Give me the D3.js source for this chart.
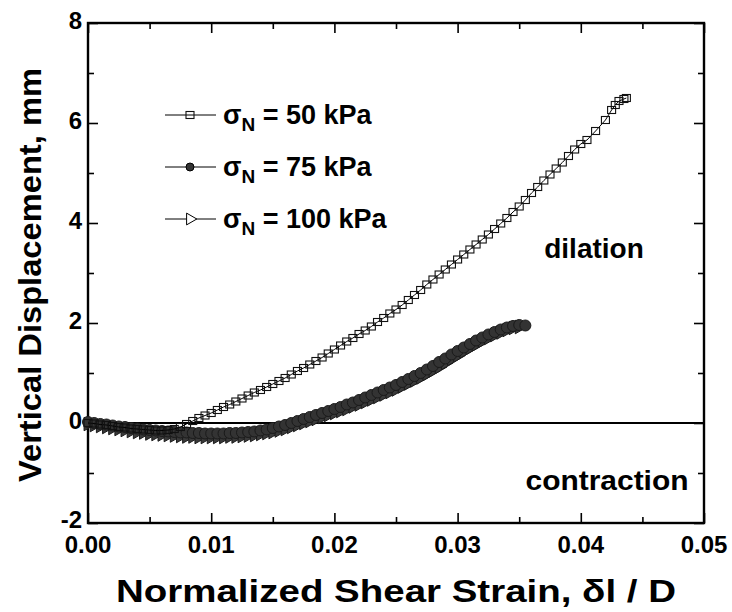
<!DOCTYPE html>
<html>
<head>
<meta charset="utf-8">
<script src="https://cdn.jsdelivr.net/npm/d3@7"></script>
<style>
  body { margin: 0; background: #fff; }
  text { font-family: "Liberation Sans", Arial, sans-serif; font-weight: bold; fill: #000; }
</style>
</head>
<body>
<div id="chart"></div>
<script>
// values
const strain50 = [0.0000,0.0005,0.0010,0.0015,0.0020,0.0025,0.0030,0.0035,0.0040,0.0045,0.0050,0.0055,0.0060,0.0065,0.0070,0.0075,0.0080,0.0085,0.0090,0.0095,
  0.0100,0.0105,0.0110,0.0115,0.0120,0.0125,0.0130,0.0135,0.0140,0.0145,0.0150,0.0155,0.0160,0.0165,0.0170,0.0175,0.0180,0.0185,0.0190,0.0195,
  0.0200,0.0205,0.0210,0.0215,0.0220,0.0225,0.0230,0.0235,0.0240,0.0245,0.0250,0.0255,0.0260,0.0265,0.0270,0.0275,0.0280,0.0285,0.0290,0.0295,
  0.0300,0.0305,0.0310,0.0315,0.0320,0.0325,0.0330,0.0335,0.0340,0.0345,0.0350,0.0355,0.0360,0.0365,0.0370,0.0375,0.0380,0.0385,0.0390,0.0395,
  0.0400,0.0405,0.0412,0.0420,0.0425,0.0428,0.0431,0.0435,0.0437];
const disp50 = [0.00,-0.01,-0.03,-0.04,-0.06,-0.08,-0.09,-0.11,-0.12,-0.13,-0.14,-0.15,-0.15,-0.14,-0.12,-0.08,-0.02,0.04,0.10,0.15,
  0.20,0.26,0.32,0.37,0.43,0.49,0.55,0.61,0.66,0.72,0.78,0.84,0.90,0.97,1.04,1.10,1.17,1.24,1.31,1.39,
  1.47,1.55,1.63,1.70,1.78,1.85,1.93,2.02,2.10,2.19,2.27,2.36,2.46,2.56,2.66,2.77,2.87,2.97,3.07,3.17,
  3.27,3.37,3.47,3.57,3.67,3.77,3.88,3.99,4.10,4.22,4.33,4.46,4.60,4.72,4.85,4.97,5.09,5.21,5.34,5.47,
  5.58,5.66,5.84,6.06,6.26,6.36,6.44,6.48,6.50];

const strain75 = [0.0000,0.0005,0.0010,0.0015,0.0020,0.0025,0.0030,0.0035,0.0040,0.0045,0.0050,0.0055,0.0060,0.0065,0.0070,0.0075,0.0080,0.0085,0.0090,0.0095,
  0.0100,0.0105,0.0110,0.0115,0.0120,0.0125,0.0130,0.0135,0.0140,0.0145,0.0150,0.0155,0.0160,0.0165,0.0170,0.0175,0.0180,0.0185,0.0190,0.0195,
  0.0200,0.0205,0.0210,0.0215,0.0220,0.0225,0.0230,0.0235,0.0240,0.0245,0.0250,0.0255,0.0260,0.0265,0.0270,0.0275,0.0280,0.0285,0.0290,0.0295,
  0.0300,0.0305,0.0310,0.0315,0.0320,0.0325,0.0330,0.0335,0.0340,0.0345,0.0350,0.0355];
const disp75 = [0.02,0.00,-0.02,-0.03,-0.05,-0.07,-0.08,-0.10,-0.11,-0.13,-0.14,-0.15,-0.16,-0.17,-0.18,-0.19,-0.19,-0.20,-0.20,-0.21,
  -0.21,-0.21,-0.21,-0.20,-0.20,-0.19,-0.18,-0.17,-0.15,-0.13,-0.10,-0.07,-0.04,0.00,0.04,0.08,0.12,0.16,0.20,0.24,
  0.28,0.32,0.37,0.41,0.46,0.51,0.56,0.61,0.66,0.71,0.76,0.82,0.88,0.94,1.00,1.07,1.14,1.22,1.29,1.37,
  1.44,1.51,1.58,1.65,1.71,1.77,1.82,1.87,1.91,1.94,1.96,1.95];

const strain100 = [0.0000,0.0005,0.0010,0.0015,0.0020,0.0025,0.0030,0.0035,0.0040,0.0045,0.0050,0.0055,0.0060,0.0065,0.0070,0.0075,0.0080,0.0085,0.0090,0.0095,
  0.0100,0.0105,0.0110,0.0115,0.0120,0.0125,0.0130,0.0135,0.0140,0.0145,0.0150,0.0155,0.0160,0.0165,0.0170,0.0175,0.0180,0.0185,0.0190,0.0195,
  0.0200,0.0205,0.0210,0.0215,0.0220,0.0225,0.0230,0.0235,0.0240,0.0245,0.0250,0.0255,0.0260,0.0265,0.0270,0.0275,0.0280,0.0285,0.0290,0.0295,
  0.0300,0.0305,0.0310,0.0315,0.0320,0.0325,0.0330,0.0335,0.0340,0.0345,0.0350];
const disp100 = [-0.02,-0.04,-0.06,-0.08,-0.10,-0.12,-0.14,-0.16,-0.18,-0.19,-0.21,-0.22,-0.23,-0.24,-0.25,-0.26,-0.27,-0.27,-0.28,-0.28,
  -0.28,-0.28,-0.28,-0.27,-0.27,-0.26,-0.25,-0.24,-0.22,-0.20,-0.18,-0.15,-0.12,-0.08,-0.04,0.00,0.04,0.08,0.12,0.16,
  0.20,0.24,0.28,0.33,0.37,0.42,0.47,0.52,0.57,0.62,0.67,0.73,0.79,0.85,0.91,0.98,1.05,1.12,1.20,1.28,
  1.35,1.43,1.50,1.57,1.64,1.70,1.76,1.81,1.86,1.90,1.92];

const legendLabels = ["50 kPa", "75 kPa", "100 kPa"];
const xTicks = [0, 0.01, 0.02, 0.03, 0.04, 0.05];
const yTicks = [-2, 0, 2, 4, 6, 8];

const width = 732, height = 612;
const margin = { top: 23, right: 28, bottom: 89, left: 88 };
const plotW = width - margin.left - margin.right;
const plotH = height - margin.top - margin.bottom;

const svg = d3.select("#chart").append("svg")
    .attr("width", width)
    .attr("height", height);

const x = d3.scaleLinear().domain([0, 0.05]).range([0, plotW]);
const y = d3.scaleLinear().domain([-2, 8]).range([plotH, 0]);

const g = svg.append("g").attr("transform", `translate(${margin.left},${margin.top})`);

// zero line
g.append("line")
    .attr("x1", x(0)).attr("x2", x(0.05))
    .attr("y1", y(0)).attr("y2", y(0))
    .attr("stroke", "#000").attr("stroke-width", 1.8);

// ticks, all pointing inward
const minorX = d3.range(0.005, 0.05, 0.01);
const minorY = d3.range(-1, 8, 2);
function tickAxis(axis, vals, size) {
    return axis.tickValues(vals).tickSize(-size).tickFormat("");
}
const axes = [
    [d3.axisBottom(x), xTicks, 10, `translate(0,${plotH})`],
    [d3.axisBottom(x), minorX, 6, `translate(0,${plotH})`],
    [d3.axisTop(x), xTicks, 10, null],
    [d3.axisTop(x), minorX, 6, null],
    [d3.axisLeft(y), yTicks, 10, null],
    [d3.axisLeft(y), minorY, 6, null],
    [d3.axisRight(y), yTicks, 10, `translate(${plotW},0)`],
    [d3.axisRight(y), minorY, 6, `translate(${plotW},0)`]
];
axes.forEach(a => {
    const ax = g.append("g").call(tickAxis(a[0], a[1], a[2]));
    if (a[3]) ax.attr("transform", a[3]);
    ax.select(".domain").remove();
    ax.selectAll("line").attr("stroke", "#000").attr("stroke-width", 1.6);
});

// frame
g.append("rect")
    .attr("width", plotW).attr("height", plotH)
    .attr("fill", "none").attr("stroke", "#000").attr("stroke-width", 2.4);

// tick labels
g.selectAll(".xl").data(xTicks).join("text")
    .attr("x", d => x(d)).attr("y", plotH + 30)
    .attr("text-anchor", "middle").style("font-size", "24px")
    .text(d => d3.format(".2f")(d));
g.selectAll(".yl").data(yTicks).join("text")
    .attr("x", -6).attr("y", d => y(d) + (d === -2 ? 5 : 6))
    .attr("text-anchor", "end").style("font-size", "24px")
    .text(d => d);

// axis titles
svg.append("text")
    .attr("x", margin.left + plotW / 2).attr("y", 602)
    .attr("text-anchor", "middle").style("font-size", "32px")
    .attr("textLength", 560).attr("lengthAdjust", "spacingAndGlyphs")
    .text("Normalized Shear Strain, δl / D");
svg.append("text")
    .attr("transform", `translate(41,${margin.top + plotH / 2 + 2}) rotate(-90)`)
    .attr("text-anchor", "middle").style("font-size", "31px")
    .attr("textLength", 414).attr("lengthAdjust", "spacingAndGlyphs")
    .text("Vertical Displacement, mm");

// markers
const tri = d3.symbol().type(d3.symbolTriangle).size(80)();
function drawSeries(xs, ys, kind) {
    const pts = xs.map((d, i) => [x(d), y(ys[i])]);
    g.append("path")
        .attr("d", d3.line()(pts))
        .attr("fill", "none").attr("stroke", "#000").attr("stroke-width", 1);
    const sel = g.append("g").selectAll("g").data(pts).join("g")
        .attr("transform", d => `translate(${d[0]},${d[1]})`);
    drawMarker(sel, kind);
}
function drawMarker(sel, kind) {
    if (kind === "square") {
        sel.append("rect").attr("x", -4).attr("y", -3.5).attr("width", 8).attr("height", 7)
            .attr("fill", "none").attr("stroke", "#111").attr("stroke-width", 1.1);
    } else if (kind === "circle") {
        sel.append("circle").attr("r", 5.5)
            .attr("fill", "#333").attr("stroke", "#1a1a1a").attr("stroke-width", 1);
    } else {
        sel.append("path").attr("d", tri).attr("transform", "rotate(90)")
            .attr("fill", "#3a3a3a").attr("stroke", "#1a1a1a").attr("stroke-width", 1);
    }
}
drawSeries(strain100, disp100, "triangle");
drawSeries(strain75, disp75, "circle");
drawSeries(strain50, disp50, "square");

// legend
const kinds = ["square", "circle", "triangle"];
const legend = svg.append("g");
legendLabels.forEach((lab, i) => {
    const ly = 115 + i * 52;
    legend.append("line")
        .attr("x1", 165).attr("x2", 216).attr("y1", ly).attr("y2", ly)
        .attr("stroke", "#000").attr("stroke-width", 1);
    const mk = legend.append("g").attr("transform", `translate(190,${ly})`);
    if (kinds[i] === "circle") {
        mk.append("circle").attr("r", 4).attr("fill", "#333").attr("stroke", "#000");
    } else if (kinds[i] === "triangle") {
        mk.append("path").attr("d", d3.symbol().type(d3.symbolTriangle).size(60)())
            .attr("transform", "rotate(90)")
            .attr("fill", "#fff").attr("stroke", "#000").attr("stroke-width", 1);
    } else {
        drawMarker(mk, "square");
    }
    const t = legend.append("text").attr("x", 223).attr("y", ly + 9).style("font-size", "27px");
    t.append("tspan").text("σ");
    t.append("tspan").attr("dy", 7).style("font-size", "19px").text("N");
    t.append("tspan").attr("dy", -7).text(" = " + lab);
});

// annotations
svg.append("text").attr("x", 594).attr("y", 258)
    .attr("text-anchor", "middle").style("font-size", "28px").text("dilation");
svg.append("text").attr("x", 607).attr("y", 490)
    .attr("text-anchor", "middle").style("font-size", "28px")
    .attr("textLength", 163).attr("lengthAdjust", "spacingAndGlyphs").text("contraction");
</script>
</body>
</html>
